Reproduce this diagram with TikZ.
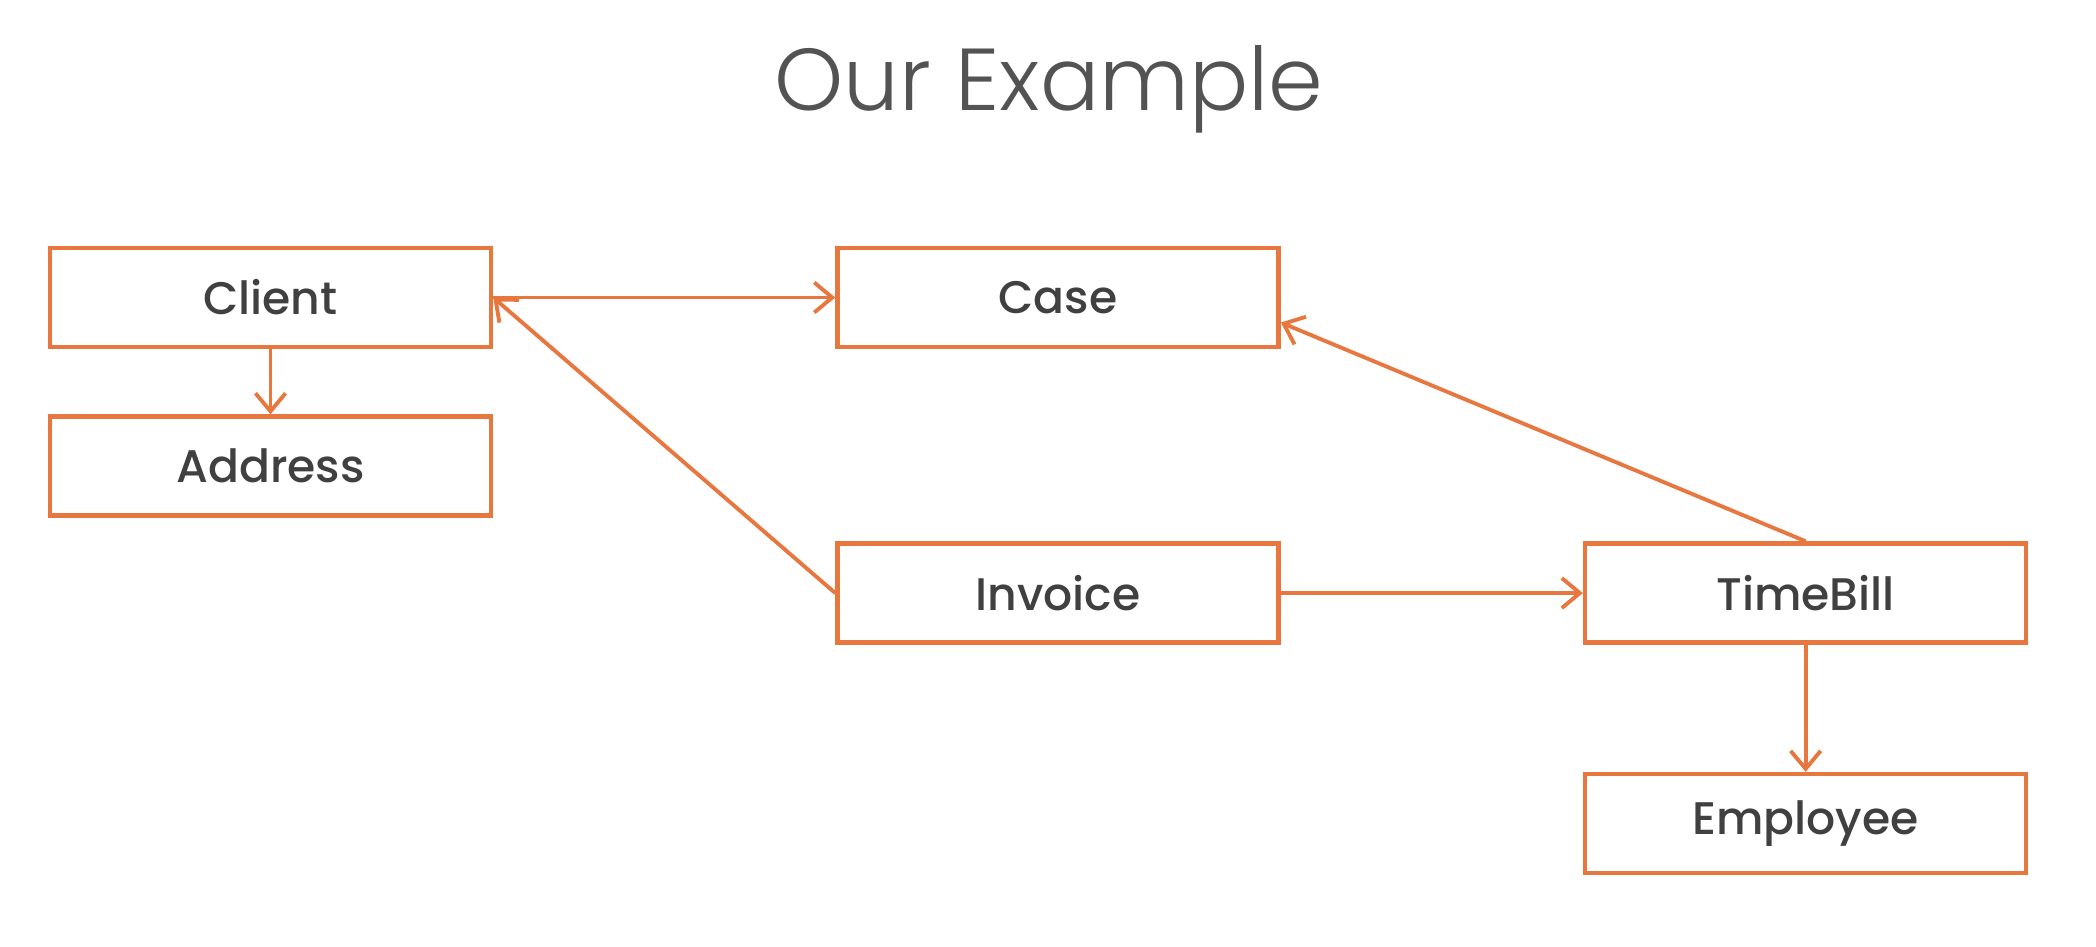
\documentclass[tikz,border=0pt]{standalone}
\usepackage{fontspec}
\setmainfont{Poppins}[UprightFont=* Medium]
\newfontfamily\titlefont{Poppins}[UprightFont=* Light]
\usepackage{xcolor}
\usetikzlibrary{arrows.meta,positioning}
\definecolor{umlorange}{HTML}{E8773F}
\definecolor{umltext}{HTML}{404040}

\begin{document}
\begin{tikzpicture}[
  node distance=0.65cm and 3.42cm,
  box/.style={draw=umlorange, line width=1.3pt, minimum width=4.41cm, minimum height=0.99cm, inner sep=0pt, font=\fontsize{13}{15}\selectfont, text=umltext},
  arr/.style={-{Straight Barb[length=1.8mm, width=3mm]}, draw=umlorange, line width=1.1pt},
  ttl/.style={font=\titlefont\fontsize{25}{30}\selectfont, text=umltext!90}]
\useasboundingbox (0,0) rectangle (20.96,-9.46);
\node[ttl] (title) at (10.49,-0.89) {Our Example};
\node[box] (client) at (2.705,-2.975) {Client};
\node[box, below=of client] (address) {Address};
\node[box, right=of client] (case) {Case};
\node[box, below=1.92cm of case] (invoice) {Invoice};
\node[box, right=3.02cm of invoice] (timebill) {TimeBill};
\node[box, below=1.27cm of timebill] (employee) {Employee};
\foreach \a/\b in {client/address,timebill/employee} \draw[arr] (\a.south) -- (\b.north);
\foreach \a/\b in {client/case,invoice/timebill} \draw[arr] (\a.east) -- (\b.west);
\draw[arr] (invoice.west) -- (client.east);
\draw[arr] (timebill.north) -- ([yshift=-0.25cm]case.east);
\end{tikzpicture}
\end{document}
